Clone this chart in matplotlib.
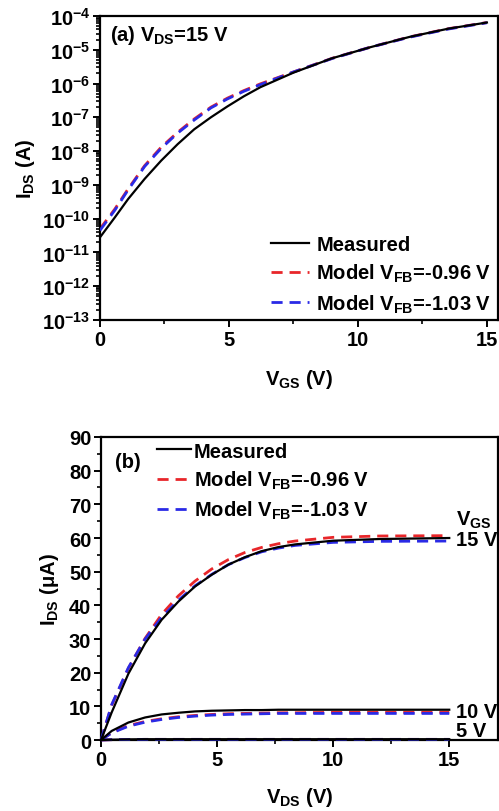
import numpy as np
import matplotlib
matplotlib.use("Agg")
import matplotlib.pyplot as plt
from matplotlib.ticker import MultipleLocator, LogLocator, NullFormatter

plt.rcParams['font.family'] = ['Liberation Sans', 'DejaVu Sans']
plt.rcParams['font.weight'] = 'bold'
plt.rcParams['axes.linewidth'] = 1.6

# ---- panel (a): transfer curve, V_DS = 15 V ----
vgs_meas = [0, 0.58, 1.09, 1.73, 2.37, 3.01, 3.65, 4.3, 4.94, 5.58, 6.22,
            7.5, 9, 10.5, 12, 13.5, 15]
ids_meas_a = [2.8e-11, 1.1e-10, 3.8e-10, 1.5e-9, 5.2e-9, 1.6e-8, 4.4e-8,
              1.0e-7, 2.1e-7, 4.2e-7, 7.8e-7, 2.1e-6, 5.6e-6, 1.2e-5,
              2.4e-5, 4.2e-5, 6.4e-5]
vgs_model = [0, 0.58, 1.09, 1.73, 2.37, 3.01, 3.65, 4.3, 4.94, 5.58, 6.22,
             7.5, 9, 10.5, 12, 13.5, 15]
ids_red_a = [5.0e-11, 1.95e-10, 7.6e-10, 3.7e-9, 1.3e-8, 3.6e-8, 8.9e-8,
             2.0e-7, 3.7e-7, 6.2e-7, 9.8e-7, 2.2e-6, 5.6e-6, 1.2e-5,
             2.4e-5, 4.2e-5, 6.4e-5]
ids_blue_a = [4.5e-11, 1.8e-10, 7.1e-10, 3.5e-9, 1.2e-8, 3.4e-8, 8.3e-8,
              1.9e-7, 3.5e-7, 5.9e-7, 9.3e-7, 2.2e-6, 5.5e-6, 1.2e-5,
              2.35e-5, 4.1e-5, 6.3e-5]

# ---- panel (b): output curves ----
vds = [0, 0.46, 1.18, 1.9, 2.61, 3.33, 4.05, 4.77, 5.49, 6.2, 6.92, 7.64,
       8.36, 10, 12, 15]
meas15 = [0, 8.2, 19.7, 28.7, 35.7, 41.1, 45.6, 49.1, 52.1, 54.3, 56.1,
          57.3, 58.1, 59.2, 59.7, 60.0]
red15 = [0, 10.3, 21.3, 30.2, 37.3, 42.8, 47.2, 50.8, 53.6, 55.7, 57.2,
         58.3, 59.1, 60.2, 60.6, 60.7]
blue15 = [0, 10.5, 21.5, 30.0, 36.4, 41.5, 45.8, 49.2, 52.1, 54.2, 55.9,
          57.0, 57.8, 58.7, 59.0, 59.1]
meas10 = [0, 2.7, 5.2, 6.7, 7.6, 8.1, 8.5, 8.7, 8.8, 8.9, 8.9, 9.0, 9.0,
          9.0, 9.0, 9.0]
red10 = [0, 2.2, 4.3, 5.5, 6.3, 6.9, 7.3, 7.6, 7.8, 7.9, 8.0, 8.1, 8.1,
         8.2, 8.2, 8.2]
blue10 = [0, 2.1, 4.1, 5.3, 6.1, 6.7, 7.1, 7.4, 7.6, 7.7, 7.8, 7.9, 7.9,
          7.9, 7.9, 7.9]
meas5 = [0, 0.1, 0.2, 0.25, 0.25, 0.25, 0.25, 0.25, 0.25, 0.25, 0.25, 0.25,
         0.25, 0.25, 0.25, 0.25]
red5 = [0, 0.1, 0.15, 0.2, 0.2, 0.2, 0.2, 0.2, 0.2, 0.2, 0.2, 0.2, 0.2,
        0.2, 0.2, 0.2]
blue5 = [0, 0.1, 0.15, 0.2, 0.2, 0.2, 0.2, 0.2, 0.2, 0.2, 0.2, 0.2, 0.2,
         0.2, 0.2, 0.2]
vgs_labels = ['15 V', '10 V', '5 V']
vgs_label_y = [59.5, 8.5, 2.7]

RED = '#e8262a'
BLUE = '#2a2ae6'
FS = 14.5
TFS = 14.5
DASH = (4, 2.5)

fig = plt.figure(figsize=(4.99, 8.12), dpi=100)
ax1 = fig.add_axes([0.2004, 0.6047, 0.7976, 0.3744])
ax2 = fig.add_axes([0.2024, 0.0874, 0.7956, 0.3732])

# panel (a)
ax1.plot(vgs_meas, ids_meas_a, color='k', lw=1.6, label='Measured', zorder=4)
ax1.plot(vgs_model, ids_red_a, color=RED, lw=2, dashes=DASH,
         label=r'Model $\mathdefault{V_{FB}}$=-0.96 V', zorder=2)
ax1.plot(vgs_model, ids_blue_a, color=BLUE, lw=2, dashes=DASH,
         label=r'Model $\mathdefault{V_{FB}}$=-1.03 V', zorder=3)
ax1.set_yscale('log')
ax1.set_xlim(0, 15.43)
ax1.set_ylim(1e-13, 1e-4)
ax1.yaxis.set_major_locator(LogLocator(base=10, numticks=20))
ax1.yaxis.set_minor_locator(LogLocator(base=10, subs=np.arange(2, 10), numticks=20))
ax1.yaxis.set_minor_formatter(NullFormatter())
ax1.xaxis.set_major_locator(MultipleLocator(5))
ax1.xaxis.set_minor_locator(MultipleLocator(2.5))
ax1.set_xlabel(r'$\mathdefault{V_{GS}}$ (V)', fontsize=FS, fontweight='bold', labelpad=13)
ax1.set_ylabel(r'$\mathdefault{I_{DS}}$ (A)', fontsize=FS, fontweight='bold', labelpad=4)
ax1.text(0.025, 0.94, r'(a) $\mathdefault{V_{DS}}$=15 V', transform=ax1.transAxes,
         fontsize=FS, fontweight='bold', va='center', ha='left')
ax1.legend(loc='upper left', bbox_to_anchor=(0.43, 0.28), frameon=False,
           borderpad=0, borderaxespad=0, handlelength=1.9,
           handletextpad=0.35, labelspacing=0.4, prop={'weight': 'bold', 'size': FS})

# panel (b)
for m, r, b in [(meas15, red15, blue15), (meas10, red10, blue10), (meas5, red5, blue5)]:
    ax2.plot(vds, r, color=RED, lw=2, dashes=DASH, zorder=2, clip_on=False)
    ax2.plot(vds, b, color=BLUE, lw=2, dashes=DASH, zorder=3, clip_on=False)
    ax2.plot(vds, m, color='k', lw=1.6, zorder=4, clip_on=False)
h1, = ax2.plot([], [], color='k', lw=1.6, label='Measured')
h2, = ax2.plot([], [], color=RED, lw=2, dashes=DASH, label=r'Model $\mathdefault{V_{FB}}$=-0.96 V')
h3, = ax2.plot([], [], color=BLUE, lw=2, dashes=DASH, label=r'Model $\mathdefault{V_{FB}}$=-1.03 V')
ax2.set_xlim(0, 17.1)
ax2.set_ylim(0, 90)
ax2.xaxis.set_major_locator(MultipleLocator(5))
ax2.xaxis.set_minor_locator(MultipleLocator(2.5))
ax2.yaxis.set_major_locator(MultipleLocator(10))
ax2.yaxis.set_minor_locator(MultipleLocator(5))
ax2.set_xlabel(r'$\mathdefault{V_{DS}}$ (V)', fontsize=FS, fontweight='bold', labelpad=12)
ax2.set_ylabel(r'$\mathdefault{I_{DS}}$ ($\mathdefault{\mu}$A)', fontsize=FS, fontweight='bold', labelpad=6)
ax2.text(0.035, 0.92, '(b)', transform=ax2.transAxes, fontsize=FS,
         fontweight='bold', va='center', ha='left')
ax2.legend(handles=[h1, h2, h3], loc='upper left', bbox_to_anchor=(0.14, 0.985),
           frameon=False, borderpad=0, borderaxespad=0, handlelength=1.7,
           handletextpad=0.15, labelspacing=0.4, prop={'weight': 'bold', 'size': FS})
ax2.text(15.3, 65.6, r'$\mathdefault{V_{GS}}$', fontsize=FS, fontweight='bold',
         va='center', ha='left')
for lab, yy in zip(vgs_labels, vgs_label_y):
    ax2.text(15.3, yy, lab, fontsize=FS, fontweight='bold', va='center', ha='left')

for ax in (ax1, ax2):
    ax.tick_params(which='major', direction='out', length=5, width=1.4,
                   labelsize=TFS, pad=2, top=False, right=False)
    ax.tick_params(which='minor', direction='out', length=3, width=1.2,
                   top=False, right=False)
    for lbl in ax.get_xticklabels() + ax.get_yticklabels():
        lbl.set_fontweight('bold')

fig.savefig('out.png', dpi=100)
